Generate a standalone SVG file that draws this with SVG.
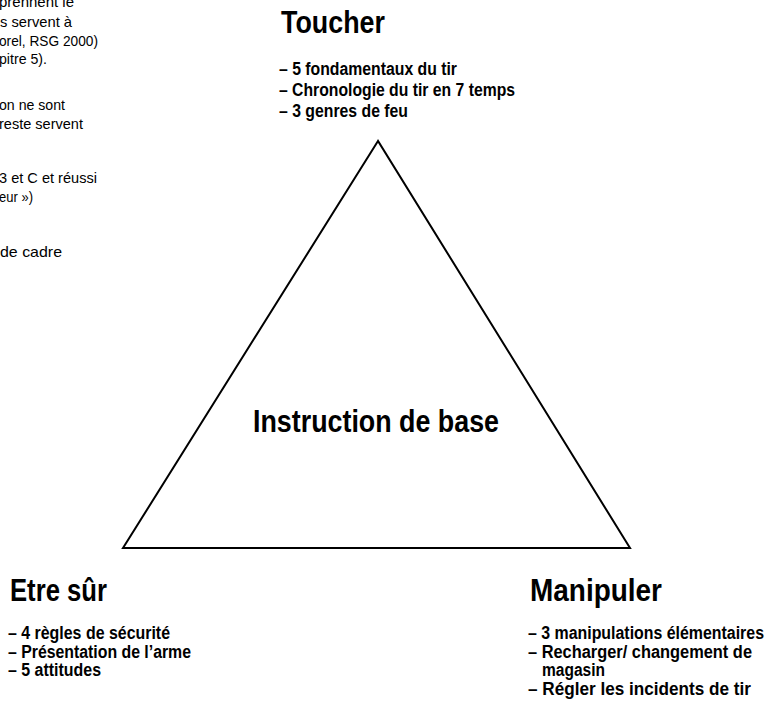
<svg xmlns="http://www.w3.org/2000/svg" width="768" height="708" viewBox="0 0 768 708">
<style>
.t{font-family:"Liberation Sans",Arial,sans-serif;font-weight:bold;fill:#000}
.h{font-size:31px}
.li{font-size:18px}
.c{font-size:32px}
.n{font-family:"Liberation Sans",Arial,sans-serif;font-size:15px;fill:#000;text-anchor:end}
</style>
<rect width="768" height="708" fill="#fff"/>
<g id="note">
<text class="n" x="74" y="7" textLength="75" lengthAdjust="spacingAndGlyphs">prennent le</text>
<text class="n" x="72" y="26.5" textLength="72" lengthAdjust="spacingAndGlyphs">s servent à</text>
<text class="n" x="98" y="45.5" textLength="99" lengthAdjust="spacingAndGlyphs">orel, RSG 2000)</text>
<text class="n" x="47" y="64" textLength="48" lengthAdjust="spacingAndGlyphs">pitre 5).</text>
<text class="n" x="65" y="110" textLength="66" lengthAdjust="spacingAndGlyphs">on ne sont</text>
<text class="n" x="83" y="129" textLength="84" lengthAdjust="spacingAndGlyphs">reste servent</text>
<text class="n" x="97" y="183" textLength="98" lengthAdjust="spacingAndGlyphs">3 et C et réussi</text>
<text class="n" x="33" y="201.5" textLength="34" lengthAdjust="spacingAndGlyphs">eur »)</text>
<text class="n" x="62" y="257" textLength="62" lengthAdjust="spacingAndGlyphs">de cadre</text>
</g>
<g id="connectors">
<polygon points="378,141 123,548 630,548" fill="none" stroke="#000" stroke-width="2" stroke-linejoin="miter"/>
</g>
<g id="center">
<text class="t c" x="253" y="432" textLength="246" lengthAdjust="spacingAndGlyphs">Instruction de base</text>
</g>
<g id="toucher">
<text class="t h" x="281" y="33" textLength="104" lengthAdjust="spacingAndGlyphs">Toucher</text>
<text class="t li" x="279" y="75" textLength="178" lengthAdjust="spacingAndGlyphs">– 5 fondamentaux du tir</text>
<text class="t li" x="279" y="96" textLength="236" lengthAdjust="spacingAndGlyphs">– Chronologie du tir en 7 temps</text>
<text class="t li" x="279" y="117" textLength="129" lengthAdjust="spacingAndGlyphs">– 3 genres de feu</text>
</g>
<g id="etre-sur">
<text class="t h" x="10" y="601" textLength="97" lengthAdjust="spacingAndGlyphs">Etre sûr</text>
<text class="t li" x="8" y="639" textLength="162" lengthAdjust="spacingAndGlyphs">– 4 règles de sécurité</text>
<text class="t li" x="8" y="657.5" textLength="183" lengthAdjust="spacingAndGlyphs">– Présentation de l’arme</text>
<text class="t li" x="8" y="676" textLength="93" lengthAdjust="spacingAndGlyphs">– 5 attitudes</text>
</g>
<g id="manipuler">
<text class="t h" x="530" y="601" textLength="132" lengthAdjust="spacingAndGlyphs">Manipuler</text>
<text class="t li" x="528" y="639" textLength="236" lengthAdjust="spacingAndGlyphs">– 3 manipulations élémentaires</text>
<text class="t li" x="528" y="657.5" textLength="224" lengthAdjust="spacingAndGlyphs">– Recharger/ changement de</text>
<text class="t li" x="542" y="676" textLength="63" lengthAdjust="spacingAndGlyphs">magasin</text>
<text class="t li" x="528" y="694.5" textLength="223" lengthAdjust="spacingAndGlyphs">– Régler les incidents de tir</text>
</g>
</svg>
